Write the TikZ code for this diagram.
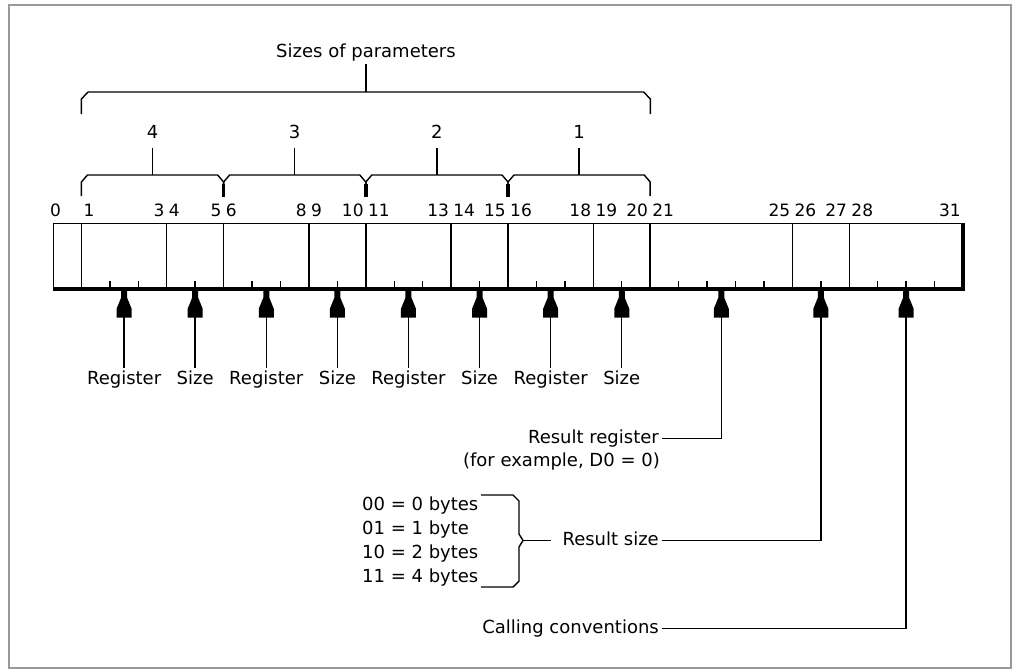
\documentclass[tikz,border=0pt]{standalone}
\usepackage{fontspec}
\setmainfont{DejaVu Sans}
\begin{document}
\begin{tikzpicture}[x=1pt,y=-1pt,
  lbl/.style={font=\fontsize{18}{22}\selectfont, inner sep=3pt, text height=13pt, text depth=4pt},
  bitnum/.style={font=\fontsize{17}{20}\selectfont, inner sep=1pt},
  grp/.style={font=\fontsize{18}{22}\selectfont, inner sep=0pt},
  thinline/.style={line width=1.4pt},
  bracepath/.style={line width=1.4pt, line join=miter},
  shadowline/.style={line width=4pt},
  conn/.style={line width=1.4pt},
  ahead/.pic={\fill (-3,0) -- (3,0) -- (3,7) -- (7.5,18) -- (7.5,27) -- (-7.5,27) -- (-7.5,18) -- (-3,7) -- cycle;}]

\useasboundingbox (0,0) rectangle (1013,672);
\draw[black!40, line width=1.5pt] (9,5) rectangle (1011,668);

% register box
\node[draw, thinline, anchor=north west, minimum width=910pt, minimum height=64pt, inner sep=0pt] (reg) at (53,223) {};
\draw[shadowline] (53,288.7) -- (963,288.7) -- (963,223);

% field dividers
\foreach \b in {1,4,6,9,11,14,16,19,21,26,28}
  \draw[thinline] ({53+28.4375*\b},223) -- ({53+28.4375*\b},287);
% bit ticks
\foreach \b in {2,3,5,7,8,10,12,13,15,17,18,20,22,23,24,25,27,29,30,31}
  \draw[thinline] ({53+28.4375*\b},287) -- ({53+28.4375*\b},281);

% bit numbers
\node[bitnum, anchor=base west] (n0) at (49,216) {0};
\foreach \b in {1,4,6,9,11,14,16,19,21,26,28}
  \node[bitnum, anchor=base west] (n\b) at ({53+28.4375*\b+1},216) {\b};
\foreach \b in {3,5,8,10,13,15,18,20,25,27,31}
  \node[bitnum, anchor=base east] (n\b) at ({53+28.4375*(\b+1)-1},216) {\b};

% group braces
\foreach \a/\b/\lab in {1/6/4, 6/11/3, 11/16/2, 16/21/1} {
  \pgfmathsetmacro\xl{53+28.4375*\a}
  \pgfmathsetmacro\xr{53+28.4375*\b}
  \pgfmathsetmacro\xm{(\xl+\xr)/2}
  \draw[bracepath] (\xl,196) -- (\xl,182) -- (\xl+6,175) -- (\xr-6,175) -- (\xr,182) -- (\xr,196);
  \node[grp, anchor=base] (g\lab) at (\xm,138) {\lab};
  \draw[bracepath] (\xm,175) -- (\xm,148);
}
\foreach \b in {6,11,16}
  \draw[line width=3.5pt] ({53+28.4375*\b},184) -- ({53+28.4375*\b},197);

% big brace
\draw[bracepath] (81.4,114) -- (81.4,99) -- (88,92) -- (643.7,92) -- (650.3,99) -- (650.3,114);
\node[lbl, anchor=base] (title) at (366,57) {Sizes of parameters};
\draw[bracepath] (title.south) -- (366,92);

% bottom field labels and arrows
\foreach \p/\t [count=\i] in {2.5/Register, 5/Size, 7.5/Register, 10/Size, 12.5/Register, 15/Size, 17.5/Register, 20/Size} {
  \coordinate (t\i) at ({53+28.4375*\p},290.7);
  \node[lbl, anchor=base] (f\i) at ({53+28.4375*\p},384) {\t};
  \draw[conn] (f\i.north) -- (t\i);
  \pic at (t\i) {ahead};
}

% result register
\coordinate (t9) at ({53+28.4375*23.5},290.7);
\node[lbl, anchor=base east] (rr) at (662,443) {Result register};
\node[lbl, anchor=base east] (rr2) at (663,466) {(for example, D0 = 0)};
\draw[conn] (rr.east) -| (t9);
\pic at (t9) {ahead};

% result size
\coordinate (t10) at ({53+28.4375*27},290.7);
\node[lbl, anchor=base east] (rs) at (662,545) {Result size};
\draw[conn] (rs.east) -| (t10);
\pic at (t10) {ahead};
\node[lbl, anchor=base west] (s0) at (359,510) {00 = 0 bytes};
\node[lbl, anchor=base west] (s1) at (359,534) {01 = 1 byte};
\node[lbl, anchor=base west] (s2) at (359,558) {10 = 2 bytes};
\node[lbl, anchor=base west] (s3) at (359,582) {11 = 4 bytes};
\coordinate (bt) at (523,540.5);
\draw[bracepath] (481,495) -- (513,495) -- (519,501) -- (519,534) -- (bt) -- (519,547) -- (519,581) -- (513,587) -- (481,587);
\draw[conn] (bt) -- ([xshift=-8pt]rs.west);

% calling conventions
\coordinate (t11) at ({53+28.4375*30},290.7);
\node[lbl, anchor=base east] (cc) at (662,633) {Calling conventions};
\draw[conn] (cc.east) -| (t11);
\pic at (t11) {ahead};
\end{tikzpicture}
\end{document}
